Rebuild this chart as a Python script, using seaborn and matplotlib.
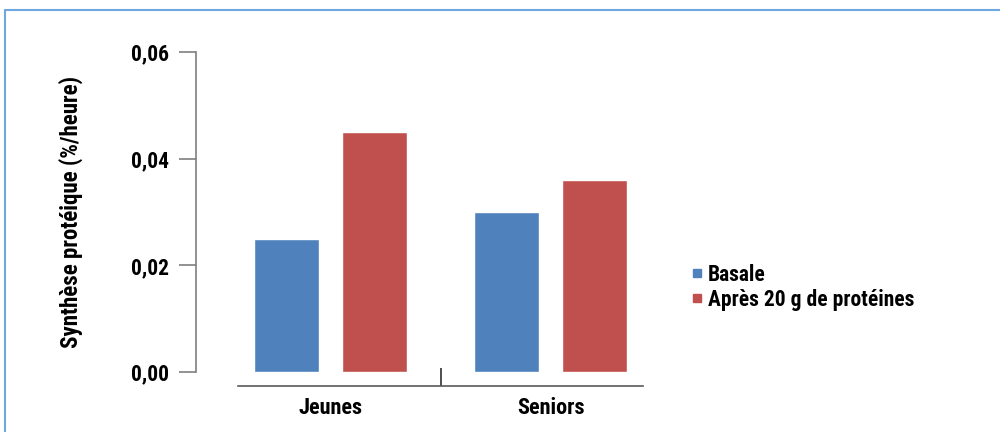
import matplotlib
matplotlib.use("Agg")
import matplotlib.pyplot as plt
from matplotlib.ticker import FuncFormatter, FixedLocator
from matplotlib.lines import Line2D
import pandas as pd
import seaborn as sns

# Données : synthèse protéique musculaire (%/heure)
groupes = ["Jeunes", "Seniors"]
mesures = ["Basale", "Après 20 g de protéines"]
basale = [0.025, 0.030]
apres = [0.045, 0.036]
yticks = [0.00, 0.02, 0.04, 0.06]

BLEU = "#4F81BD"
ROUGE = "#C0504D"

sns.set_theme(style="white")
plt.rcParams["font.family"] = ["DejaVu Sans Condensed", "Liberation Sans Narrow",
                               "Roboto Condensed", "DejaVu Sans"]
plt.rcParams["font.stretch"] = "condensed"
plt.rcParams["font.weight"] = "bold"
plt.rcParams["text.color"] = "black"
plt.rcParams["axes.labelcolor"] = "black"

df = pd.DataFrame({
    "groupe": groupes * 2,
    "mesure": [mesures[0]] * len(groupes) + [mesures[1]] * len(groupes),
    "valeur": basale + apres,
})

DPI = 100
fig = plt.figure(figsize=(10, 4.32), dpi=DPI)
ax = fig.add_axes([0.238, 0.1389, 0.405, 0.7407])

sns.barplot(data=df, x="groupe", y="valeur", hue="mesure", order=groupes,
            hue_order=mesures, palette=[BLEU, ROUGE], saturation=1,
            width=0.8, gap=0.26, ax=ax)

ax.set_xlim(-0.42, 1.42)
ax.set_ylim(0, 0.06)

def px2pt(px):
    return px * 72 / DPI

# Axe vertical décalé vers la gauche
ax.spines["top"].set_visible(False)
ax.spines["right"].set_visible(False)
ax.spines["left"].set_position(("outward", px2pt(42)))
ax.spines["left"].set_bounds(0, 0.06)
ax.spines["left"].set_color("#7F7F7F")
ax.spines["left"].set_linewidth(1.2)
ax.yaxis.set_major_locator(FixedLocator(yticks))
ax.yaxis.set_major_formatter(FuncFormatter(lambda v, p: f"{v:.2f}".replace(".", ",")))
ax.tick_params(axis="y", which="major", left=True, direction="out",
               length=px2pt(17), width=1.2, color="#7F7F7F", pad=px2pt(10),
               labelsize=15.5, labelcolor="black")

# Axe horizontal décalé vers le bas, avec séparateur entre les groupes
ax.spines["bottom"].set_position(("outward", px2pt(14)))
ax.spines["bottom"].set_color("#5A5A5A")
ax.spines["bottom"].set_linewidth(1.2)
ax.set_xticks(range(len(groupes)))
ax.set_xticks([0.5], minor=True)
ax.tick_params(axis="x", which="major", bottom=False, length=0, pad=px2pt(11),
               labelsize=16, labelcolor="black")
ax.tick_params(axis="x", which="minor", bottom=True, direction="in",
               length=px2pt(18), width=1.2, color="#303030")
for lab in ax.get_xticklabels() + ax.get_yticklabels():
    lab.set_fontweight("bold")

ax.set_xlabel("")
ax.set_ylabel("Synthèse protéique (%/heure)", fontsize=16.5, fontweight="bold",
              color="black")
ax.yaxis.set_label_coords(-0.383, 0.5)

# Légende à droite
handles = [Line2D([], [], marker="s", linestyle="none", markersize=5.5,
                  markerfacecolor=c, markeredgecolor=c) for c in (BLEU, ROUGE)]
leg = ax.legend(handles, mesures, loc="center left", bbox_to_anchor=(0.671, 0.335),
                bbox_transform=fig.transFigure, frameon=False, handlelength=0.6,
                handletextpad=0.2, labelspacing=0.15,
                prop={"size": 15.5, "weight": "bold"})
for t in leg.get_texts():
    t.set_color("black")

# Cadre bleu clair autour de la figure
fig.add_artist(Line2D([0.005, 0.005], [0, 1 - 10 / 432], transform=fig.transFigure,
                      color="#6FA8E0", linewidth=1.5))
fig.add_artist(Line2D([0.005, 1], [1 - 10 / 432, 1 - 10 / 432], transform=fig.transFigure,
                      color="#6FA8E0", linewidth=1.5))

fig.savefig("out.png", dpi=DPI)
